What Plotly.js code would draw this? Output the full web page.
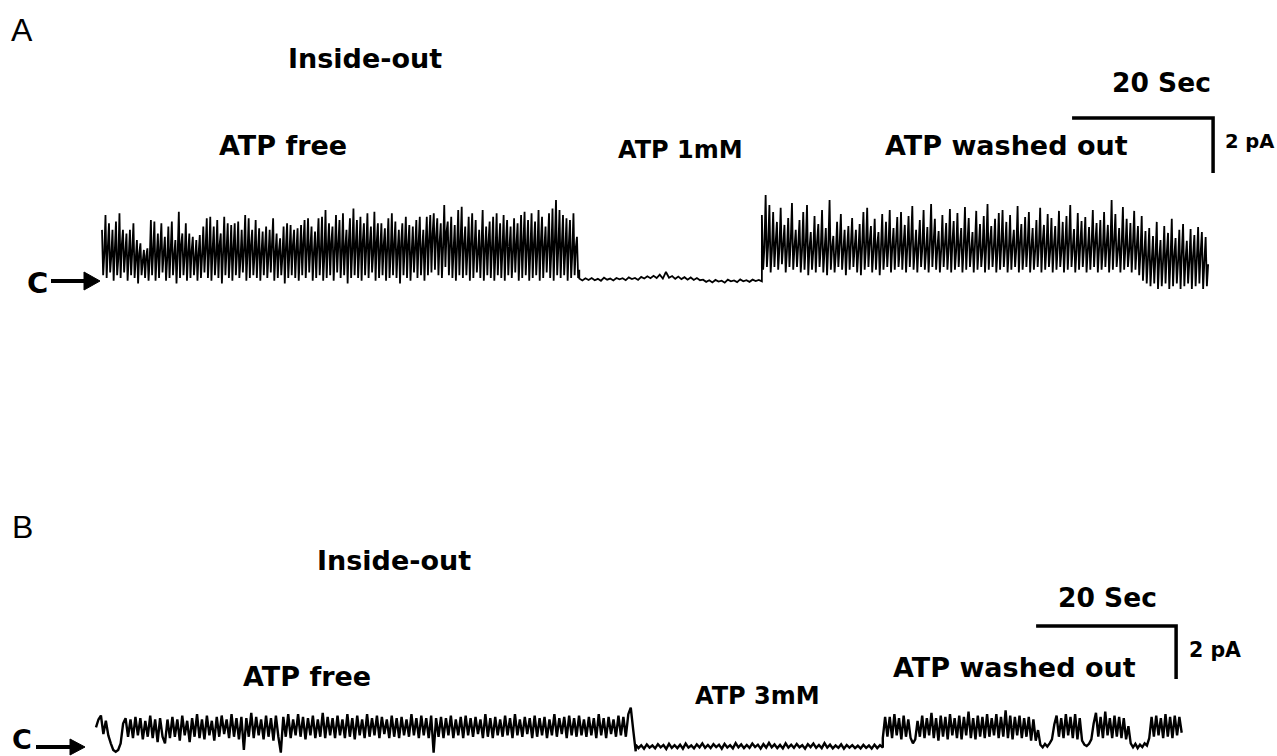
<!DOCTYPE html>
<html><head><meta charset="utf-8">
<script src="https://cdn.plot.ly/plotly-3.0.1.min.js"></script>
<style>html,body{margin:0;padding:0;background:#fff;}#chart{width:1277px;height:756px;}</style>
</head><body><div id="chart"></div>
<script>
// ---------- Panel A (inside-out patch, ATP 1 mM) : current in pA relative to closed level ----------
const segA_labels = ["ATP free", "ATP 1mM", "ATP washed out"];
const segA_bounds = [0, 67.7, 93.6, 156.9];   // seconds
const A_free = [
1.75,0.1,0.9, 2.29,0,1.1, 1.99,0.2,0.8, 1.75,-0.1,1.0, 2.05,0.1,0.7,
2.35,0,1.2, 1.75,0.2,0.9, 1.62,-0.1,0.8, 1.75,0.1,1.0, 1.99,0,0.7, 1.38,-0.2,0.9, 1.26,0.1,0.6, 1.02,0,0.8, 1.08,-0.1,0.7,
2.11,0.1,1.0, 2.05,-0.1,0.8, 1.62,0,1.1, 1.99,0.2,0.9, 1.50,-0.1,0.7, 1.87,0,1.0, 2.05,0.1,0.8, 1.38,-0.2,0.9, 2.41,0,1.2, 1.62,0.1,0.8, 1.99,-0.1,0.9,
1.62,0,1.0, 1.50,0.1,0.7, 1.38,-0.1,0.9, 1.56,0,0.8, 1.87,0.2,1.1, 2.17,0,0.9, 2.23,-0.1,1.0, 1.87,0.1,0.8, 2.11,0,1.2, 1.62,-0.2,0.9,
2.23,0.1,1.0, 1.99,0,0.8, 1.93,-0.1,1.1, 1.99,0.1,0.9, 2.05,0,0.7, 1.75,0.2,1.0, 2.29,-0.1,0.9, 2.17,0,1.2, 1.75,0.1,0.8,
2.11,0,1.0, 1.81,-0.1,0.9, 1.69,0.1,1.1, 1.87,0,0.8, 1.75,0.2,1.2, 2.17,-0.1,0.9, 1.62,0,1.0, 1.44,0.1,0.8, 1.87,-0.2,1.1, 1.99,0,0.9,
1.93,0.1,1.2, 1.75,0,1.0, 1.81,-0.1,0.9, 1.93,0.1,1.3, 2.11,0,1.0, 2.17,0.2,1.1, 1.87,-0.1,0.9, 1.69,0,1.2, 2.17,0.1,1.0, 2.23,-0.1,0.8,
2.47,0,1.1, 1.99,0.1,1.3, 1.87,-0.1,1.0, 2.29,0.2,1.2, 2.11,0,0.9, 2.35,0.1,1.1, 1.75,-0.2,1.3, 2.17,0,1.0, 2.53,0.1,1.2,
2.11,0,1.0, 2.23,-0.1,1.3, 1.99,0.1,1.1, 2.35,0,1.2, 1.87,0.2,0.9, 2.41,-0.1,1.3, 1.99,0,1.0, 1.99,0.1,1.2, 1.81,-0.1,1.1, 2.17,0,0.9,
2.35,0.1,1.2, 2.05,0,1.0, 1.75,-0.2,1.3, 1.99,0.1,1.1, 2.23,0,1.2, 1.93,-0.1,0.9, 1.87,0.2,1.1, 2.11,0,1.3, 2.23,0.1,1.0, 1.75,-0.1,1.2,
2.23,0.1,1.4, 2.29,0.2,1.6, 2.35,0.3,1.5, 2.17,0.1,1.3, 1.99,0,1.1, 2.65,0.4,1.7, 2.05,0.1,1.2, 2.23,0,1.0, 1.93,-0.1,1.1, 2.47,0.1,1.3,
2.59,0,1.2, 1.87,0.1,1.0, 2.23,-0.1,1.3, 2.35,0,1.1, 2.11,0.2,0.9, 1.75,0,1.2, 2.47,-0.1,1.0, 1.87,0.1,1.3, 2.05,0,1.1, 2.23,-0.1,0.9,
2.35,0.1,1.2, 1.99,0,1.0, 2.29,-0.1,1.3, 2.11,0.1,1.1, 1.87,0,0.9, 2.17,0.2,1.2, 1.99,-0.1,1.0, 2.29,0,1.3, 2.41,0.1,1.1, 2.11,-0.1,1.0,
2.35,0,1.2, 2.05,0.1,1.0, 2.47,-0.1,1.3, 2.23,0,1.1, 1.87,0.2,1.2, 2.35,0,1.0, 2.53,-0.1,1.3, 2.84,0.1,1.1, 2.47,0,1.2,
2.29,0.1,1.0, 2.17,-0.1,1.2, 2.11,0,0.9, 2.35,0.1,1.1, 1.50,0,0.3
];
const A_1mM = [
-0.02,-0.09,-0.01,-0.07,0.00,-0.08,-0.03,-0.10,0.01,-0.06,-0.02,-0.09,0.00,-0.05,-0.01,-0.08,0.02,-0.04,0.00,-0.07,
0.04,-0.02,0.06,-0.01,0.08,0.00,0.12,-0.02,0.22,0.01,0.07,-0.03,0.05,-0.04,0.03,-0.06,0.02,-0.07,0.00,-0.08,
-0.06,-0.14,-0.08,-0.16,-0.07,-0.13,-0.10,-0.17,-0.06,-0.12,-0.09,-0.15,-0.05,-0.12,-0.08,-0.14,-0.06,-0.11,-0.07,-0.12
];
const A_washed = [
2.29,0.3,1.1, 3.02,0.4,1.2, 2.65,0.2,1.0, 2.40,0.4,1.3, 2.04,0.3,1.1, 2.55,0.5,1.2, 1.93,0.2,1.0, 2.18,0.4,1.3, 2.73,0.3,1.1, 1.75,0.4,1.2,
2.11,0.2,1.0, 2.40,0.3,1.2, 2.65,0.1,1.1, 1.67,0.3,1.0, 2.25,0.2,1.3, 1.96,0.4,1.1, 2.47,0.2,1.0, 1.82,0.1,1.2, 2.84,0.3,1.1, 1.53,0.2,0.9, 2.04,0.4,1.2, 2.33,0.3,1.0, 1.75,0.1,1.1, 1.89,0.3,1.2,
2.18,0.4,1.1, 1.75,0.2,1.0, 1.96,0.1,1.2, 2.40,0.3,1.1, 2.55,0.4,1.3, 1.89,0.2,1.0, 2.15,0.3,1.2, 1.67,0.1,1.1, 2.33,0.3,1.0, 2.04,0.4,1.2, 2.47,0.2,1.1, 1.82,0.3,1.3, 2.22,0.4,1.0,
2.40,0.3,1.2, 1.93,0.2,1.1, 2.25,0.4,1.3, 2.62,0.3,1.0, 1.75,0.2,1.2, 2.11,0.4,1.1, 2.47,0.3,1.0, 1.85,0.2,1.2, 2.69,0.4,1.3, 2.15,0.3,1.1, 1.71,0.2,1.0, 2.29,0.4,1.2, 2.00,0.3,1.1, 2.51,0.2,1.3,
2.07,0.3,1.0, 2.36,0.4,1.2, 1.82,0.2,1.1, 2.58,0.3,1.3, 2.18,0.4,1.0, 1.67,0.2,1.2, 2.44,0.3,1.1, 1.96,0.4,1.0, 2.25,0.2,1.2, 2.69,0.3,1.3, 1.89,0.4,1.1, 2.15,0.2,1.0, 2.36,0.3,1.2,
2.47,0.4,1.1, 2.04,0.2,1.0, 2.29,0.3,1.2, 1.75,0.4,1.1, 2.62,0.2,1.3, 1.96,0.3,1.0, 2.22,0.4,1.2, 2.40,0.2,1.1, 1.82,0.3,1.0, 2.11,0.4,1.2, 2.55,0.2,1.3, 1.93,0.3,1.1, 2.33,0.4,1.0,
2.18,0.2,1.2, 1.89,0.3,1.1, 2.44,0.4,1.0, 2.04,0.2,1.2, 2.25,0.3,1.3, 2.65,0.4,1.1, 1.78,0.2,1.0, 2.36,0.3,1.2, 2.07,0.4,1.1, 2.22,0.2,1.0, 1.85,0.3,1.2, 2.47,0.4,1.3, 2.00,0.2,1.1,
2.11,0.3,1.0, 2.40,0.4,1.2, 1.93,0.2,1.1, 2.84,0.3,1.3, 2.33,0.4,1.0, 1.82,0.2,1.2, 2.58,0.3,1.1, 2.15,0.4,1.0, 2.00,0.2,1.2, 2.44,0.3,1.1, 1.89,0.1,0.9, 2.25,-0.1,0.8, 1.71,-0.2,0.7,
1.82,-0.3,0.6, 1.53,-0.2,0.8, 2.04,-0.4,0.7, 1.38,-0.3,0.6, 1.89,-0.2,0.9, 1.64,-0.4,0.7, 2.15,-0.3,0.8, 1.45,-0.2,0.6, 1.75,-0.4,0.9, 1.96,-0.3,0.7, 1.35,-0.2,0.6, 1.78,-0.4,0.8, 1.56,-0.3,0.7, 1.85,-0.2,0.9, 1.67,-0.4,0.6, 1.49,-0.3,0.5
];

// ---------- Panel B (inside-out patch, ATP 3 mM) ----------
const segB_labels = ["ATP free", "ATP 3mM", "ATP washed out"];
const segB_bounds = [0, 77.1, 112.4, 155.1];  // seconds
const B_free = [
0.70,1.00,1.15,0.45,0.95,0.40,
0.10,-0.15,-0.22,-0.15,0.10,
0.85,1.05,0.35,1.00,0.30,1.10,0.40,1.05,0.25,0.95,0.35,1.15,0.30,1.00,0.15,1.05,0.35,
0.10,1.00,
0.30,1.10,0.35,1.00,0.20,1.15,0.40,0.95,0.15,1.05,0.35,1.20,0.30,1.00,0.25,1.15,0.40,0.95,0.20,1.10,0.35,1.15,0.45,1.00,0.30,1.20,0.35,1.05,0.25,1.10,
-0.15,
1.05,0.35,1.25,0.30,1.10,0.40,1.00,0.25,1.15,0.35,1.05,0.20,1.15,0.35,
-0.25,
1.10,0.35,1.20,0.30,1.00,0.40,1.20,0.35,1.10,0.25,
1.05,0.40,1.15,0.30,1.00,0.35,1.25,0.30,1.10,0.40,
1.05,0.30,1.15,0.40,1.00,0.30,1.20,0.35,1.05,0.25,
1.15,0.40,1.00,0.30,1.20,0.35,1.05,0.40,1.15,0.30,
1.10,0.45,1.00,0.30,1.15,0.35,1.05,0.30,1.10,0.40,
1.00,0.35,1.20,0.40,1.05,0.30,1.15,0.40,1.05,0.30,
1.15,
-0.25,
1.05,0.35,1.10,0.30,1.05,0.40,1.15,0.30,1.00,0.40,
1.10,0.30,1.15,0.40,1.05,0.35,1.10,0.45,1.00,0.30,
1.20,0.35,1.05,0.30,1.10,0.40,1.00,0.35,1.15,0.40,
1.05,0.30,1.20,0.40,1.00,0.35,1.10,0.45,1.05,0.30,
1.15,0.35,1.05,0.40,1.10,0.30,1.00,0.40,1.20,0.35,
1.05,0.45,1.10,0.30,1.15,0.40,1.05,0.35,1.15,0.40,
1.00,0.35,1.10,0.40,1.05,0.30,1.20,0.40,1.05,0.30,
1.10,0.45,1.00,0.35,1.15,0.40,1.10,0.35,1.20,
1.45,0.60,-0.20
];
const B_3mM = [
0.05,-0.08,0.03,-0.10,0.06,-0.06,0.02,-0.09,0.07,-0.05,
0.04,-0.11,0.08,-0.07,0.03,-0.08,0.05,-0.10,0.09,-0.06,
0.02,-0.09,0.06,-0.05,0.10,-0.07,0.04,-0.08,0.07,-0.04,
0.05,-0.10,0.08,-0.06,0.03,-0.09,0.11,-0.05,0.06,-0.08,
0.04,-0.07,0.09,-0.04,0.05,-0.10,0.07,-0.06,0.12,-0.05,
0.06,-0.08,0.04,-0.09,0.10,-0.06,0.05,-0.07,0.08,-0.05,
0.03,-0.10,0.07,-0.04,0.09,-0.07,0.04,-0.08,0.11,-0.06,
0.05,-0.09,0.02,-0.07,0.06,-0.10,0.04,-0.06,0.03,-0.08,
0.01,-0.09,0.04,-0.07,0.02,-0.10,0.05,-0.08,0.03,-0.06
];
const B_washed = [
0.30,1.10,
0.35,1.10,0.30,1.20,0.40,1.05,0.25,1.15,0.35,1.00,0.30,
0.10,0.25,0.95,
0.35,1.15,0.30,1.05,0.40,1.25,0.30,1.05,0.20,1.15,
0.35,1.10,0.25,1.20,0.40,1.05,0.30,1.15,0.25,1.10,
0.40,1.30,0.30,1.05,0.25,1.15,0.35,1.10,0.30,1.20,
0.35,1.05,0.40,1.20,0.30,1.10,0.35,1.35,0.30,1.15,
0.25,1.10,0.40,1.15,0.30,1.05,0.35,1.10,0.20,1.00,
0.20,0.60,
0.05,-0.05,0.08,-0.02,0.10,0.25,0.80,
1.15,0.35,1.05,0.30,1.20,0.40,1.10,0.30,1.20,0.25,1.05,0.20,
0.05,0.00,0.08,0.25,0.85,
1.25,0.35,1.10,0.30,1.30,0.40,1.05,0.30,1.15,0.35,1.10,0.30,1.05,0.25,0.75,
0.10,-0.05,0.08,-0.08,0.05,-0.04,0.10,0.02,0.30,
1.10,0.35,1.15,0.40,1.05,0.30,1.20,0.35,1.10,0.30,1.15,0.40,1.10,0.50
];

// scale bars
const scaleTimeSec = 20;
const scaleCurrentPA = 2;
const scaleLabelTime = "20 Sec";
const scaleLabelCurrent = "2 pA";
const panelTitle = "Inside-out";

// ---------- geometry (layout only) ----------
const W = 1277, H = 756;
const pxPerSecA = 7.05, pxPerPA_A = 27.5, x0A = 102, closedA = 278;
const pxPerSecB = 7.0,  pxPerPA_B = 26.5, x0B = 96,  closedB = 746;

function build(segs, bounds) {
  const t = [], v = [];
  segs.forEach((s, k) => {
    const b0 = bounds[k], b1 = bounds[k + 1];
    s.forEach((val, i) => { t.push(b0 + (b1 - b0) * i / (s.length - 1)); v.push(val); });
  });
  return { t, v };
}
const trA = build([A_free, A_1mM, A_washed], segA_bounds);
const trB = build([B_free, B_3mM, B_washed], segB_bounds);

const data = [
  { x: trA.t, y: trA.v, xaxis: 'x', yaxis: 'y', type: 'scatter', mode: 'lines',
    line: { color: '#000', width: 1.8, simplify: false }, hoverinfo: 'skip' },
  { x: trB.t, y: trB.v, xaxis: 'x2', yaxis: 'y2', type: 'scatter', mode: 'lines',
    line: { color: '#000', width: 2.4, simplify: false }, hoverinfo: 'skip' }
];

const hidden = { showgrid: false, zeroline: false, showticklabels: false, showline: false, ticks: '', fixedrange: true };
const axA_x = Object.assign({}, hidden, { domain: [0, 1], anchor: 'y', range: [-x0A / pxPerSecA, (W - x0A) / pxPerSecA] });
const axA_y = Object.assign({}, hidden, { domain: [0.5, 1], anchor: 'x', range: [(closedA - 378) / pxPerPA_A, closedA / pxPerPA_A] });
const axB_x = Object.assign({}, hidden, { domain: [0, 1], anchor: 'y2', range: [-x0B / pxPerSecB, (W - x0B) / pxPerSecB] });
const axB_y = Object.assign({}, hidden, { domain: [0, 0.5], anchor: 'x2', range: [(closedB - H) / pxPerPA_B, (closedB - 378) / pxPerPA_B] });

// scale bar positions (data units)
const barA = { t1: 157.6, i1: 5.82 };
const barB = { t1: 154.3, i1: 4.53 };
function barPath(b) {
  return `M${b.t1 - scaleTimeSec},${b.i1} L${b.t1},${b.i1} L${b.t1},${b.i1 - scaleCurrentPA}`;
}

const px = x => x / W, py = y => 1 - y / H;
function pp(pts) { return pts.map((p, i) => (i ? 'L' : 'M') + px(p[0]) + ',' + py(p[1])).join(' ') + ' Z'; }

const shapes = [
  { type: 'path', xref: 'x', yref: 'y', path: barPath(barA), line: { color: '#000', width: 3.5 } },
  { type: 'path', xref: 'x2', yref: 'y2', path: barPath(barB), line: { color: '#000', width: 3.5 } },
  // "C" arrows marking the closed level
  { type: 'line', xref: 'paper', yref: 'paper', x0: px(51), y0: py(281), x1: px(86), y1: py(281), line: { color: '#000', width: 4 } },
  { type: 'path', xref: 'paper', yref: 'paper', path: pp([[84, 272], [100, 281], [84, 290]]), fillcolor: '#000', line: { color: '#000', width: 1 } },
  { type: 'line', xref: 'paper', yref: 'paper', x0: px(36), y0: py(747), x1: px(72), y1: py(747), line: { color: '#000', width: 4 } },
  { type: 'path', xref: 'paper', yref: 'paper', path: pp([[70, 739], [85, 747], [70, 755]]), fillcolor: '#000', line: { color: '#000', width: 1 } }
];

const BOLD = 'DejaVu Sans, Arial, sans-serif';
function ann(text, x, y, size, opts) {
  return Object.assign({ text: text, xref: 'paper', yref: 'paper', x: px(x), y: py(y), showarrow: false,
    xanchor: 'center', yanchor: 'middle', borderpad: 0,
    font: { family: BOLD, size: size, color: '#000', weight: 'bold' } }, opts || {});
}
const REG = { family: 'Liberation Sans, Arial, sans-serif', size: 32, color: '#000' };
const annotations = [
  ann('A', 22, 30, 32, { font: REG }),
  ann(panelTitle, 365, 58, 27),
  ann(scaleLabelTime, 1161, 82, 26.5),
  ann(scaleLabelCurrent, 1224, 142, 19.5, { xanchor: 'left' }),
  ann(segA_labels[0], 283, 145, 27),
  ann(segA_labels[1], 680, 150, 24),
  ann(segA_labels[2], 1006, 145, 27),
  ann('C', 37, 283, 29),
  ann('B', 22, 527, 32, { font: REG }),
  ann(panelTitle, 394, 560, 27),
  ann(scaleLabelTime, 1107, 597, 26.5),
  ann(scaleLabelCurrent, 1188, 650, 20.5, { xanchor: 'left' }),
  ann(segB_labels[0], 307, 676, 27),
  ann(segB_labels[1], 757, 696, 24),
  ann(segB_labels[2], 1015, 667, 27),
  ann('C', 22, 756, 27, { yanchor: 'bottom' })
];

const layout = {
  width: W, height: H, margin: { l: 0, r: 0, t: 0, b: 0, pad: 0 },
  paper_bgcolor: '#fff', plot_bgcolor: '#fff', showlegend: false,
  xaxis: axA_x, yaxis: axA_y, xaxis2: axB_x, yaxis2: axB_y,
  shapes: shapes, annotations: annotations
};
Plotly.newPlot('chart', data, layout, { staticPlot: true, displayModeBar: false });
</script></body></html>
